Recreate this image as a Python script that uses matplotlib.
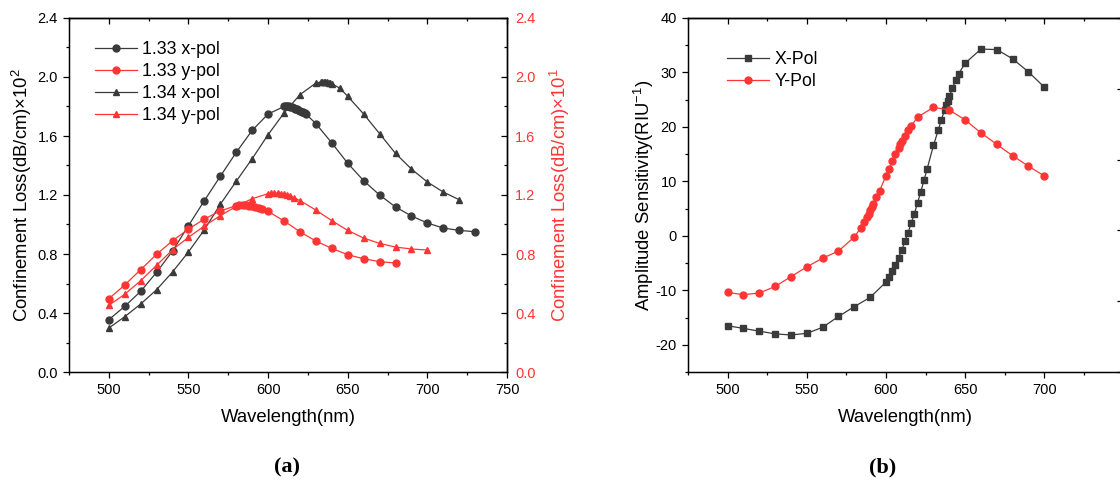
import matplotlib
matplotlib.use('Agg')
import matplotlib.pyplot as plt
from matplotlib.ticker import MultipleLocator

plt.rcParams['font.family'] = ['Liberation Sans', 'DejaVu Sans']
plt.rcParams['mathtext.fontset'] = 'custom'
plt.rcParams['mathtext.rm'] = 'Liberation Sans'
plt.rcParams['axes.unicode_minus'] = False

BLACK = '#3a3a3a'
RED = '#ff3535'

# ---- panel (a): confinement loss ----
wl_133x = [500, 510, 520, 530, 540, 550, 560, 570, 580, 590, 600,
           610, 611, 612, 613, 614, 615, 616, 617, 618, 619, 620, 621, 622, 623, 624,
           630, 640, 650, 660, 670, 680, 690, 700, 710, 720, 730]
cl_133x = [0.355, 0.445, 0.547, 0.676, 0.82, 0.992, 1.162, 1.327, 1.489, 1.638, 1.749,
           1.800, 1.803, 1.803, 1.800, 1.797, 1.794, 1.790, 1.786, 1.782, 1.777, 1.772, 1.766, 1.760, 1.753, 1.746,
           1.684, 1.553, 1.415, 1.297, 1.200, 1.119, 1.058, 1.010, 0.976, 0.960, 0.951]

wl_133y = [500, 510, 520, 530, 540, 550, 560, 570, 580,
           582, 584, 586, 588, 590, 592, 594, 596,
           600, 610, 620, 630, 640, 650, 660, 670, 680]
cl_133y = [0.497, 0.590, 0.694, 0.798, 0.890, 0.969, 1.037, 1.092, 1.128,
           1.131, 1.132, 1.131, 1.128, 1.124, 1.118, 1.111, 1.103,
           1.089, 1.024, 0.951, 0.888, 0.838, 0.795, 0.768, 0.748, 0.739]

wl_134x = [500, 510, 520, 530, 540, 550, 560, 570, 580, 590, 600, 610, 620, 630,
           633, 634, 635, 636, 637, 638, 639, 640,
           645, 650, 660, 670, 680, 690, 700, 710, 720]
cl_134x = [0.298, 0.375, 0.461, 0.558, 0.678, 0.814, 0.965, 1.137, 1.293, 1.446, 1.609, 1.756, 1.880, 1.959,
           1.966, 1.968, 1.968, 1.967, 1.965, 1.962, 1.958, 1.953,
           1.925, 1.869, 1.749, 1.616, 1.482, 1.376, 1.288, 1.220, 1.168]

wl_134y = [500, 510, 520, 530, 540, 550, 560, 570, 580, 590, 600,
           602, 604, 606, 608, 610, 612, 614, 616,
           620, 630, 640, 650, 660, 670, 680, 690, 700]
cl_134y = [0.452, 0.527, 0.619, 0.723, 0.829, 0.913, 0.990, 1.060, 1.123, 1.175, 1.209,
           1.212, 1.213, 1.212, 1.210, 1.206, 1.200, 1.192, 1.182,
           1.162, 1.098, 1.026, 0.960, 0.908, 0.872, 0.847, 0.834, 0.827]

# ---- panel (b): amplitude sensitivity ----
wl_xpol = [500, 510, 520, 530, 540, 550, 560, 570, 580, 590,
           600, 602, 604, 606, 608, 610, 612, 614, 616, 618, 620, 622, 624, 626,
           630, 633, 635, 637, 638, 639, 640, 642, 644, 646,
           650, 660, 670, 680, 690, 700]
sa_xpol = [-16.5, -17.0, -17.5, -18.0, -18.2, -17.9, -16.8, -14.8, -13.0, -11.3,
           -8.5, -7.5, -6.4, -5.3, -4.0, -2.6, -1.0, 0.6, 2.4, 4.1, 6.1, 8.1, 10.2, 12.3,
           16.6, 19.4, 21.3, 23.1, 24.0, 24.8, 25.6, 27.1, 28.6, 29.8,
           31.7, 34.3, 34.2, 32.5, 30.1, 27.3]

wl_ypol = [500, 510, 520, 530, 540, 550, 560, 570, 580,
           584, 586, 588, 589, 590, 591, 592, 594, 596,
           600, 602, 604, 606, 608, 609, 610, 612, 614, 616,
           620, 630, 640, 650, 660, 670, 680, 690, 700]
sa_ypol = [-10.4, -10.8, -10.5, -9.3, -7.5, -5.7, -4.1, -2.8, -0.2,
           1.4, 2.5, 3.5, 4.1, 4.7, 5.3, 5.8, 7.1, 8.3,
           11.0, 12.3, 13.7, 15.0, 16.2, 16.8, 17.5, 18.4, 19.4, 20.2,
           21.8, 23.6, 23.1, 21.3, 18.9, 16.8, 14.7, 12.8, 11.0]

TICK_FS = 10.5
LABEL_FS = 13.3
LEG_FS = 12.8

fig = plt.figure(figsize=(11.2, 4.86), dpi=100)
ax1 = fig.add_axes([69 / 1120, 114 / 486, 438 / 1120, 354 / 486])
ax2 = fig.add_axes([688 / 1120, 114 / 486, 435.5 / 1120, 354 / 486])


def frame(ax):
    ax.tick_params(which='major', direction='out', length=4.5, width=0.9,
                   labelsize=TICK_FS, top=False, right=False)
    ax.tick_params(which='minor', direction='out', length=2.5, width=0.9,
                   top=False, right=False)
    for s in ax.spines.values():
        s.set_linewidth(1.0)
    top = ax.secondary_xaxis('top')
    top.xaxis.set_major_locator(MultipleLocator(50))
    top.xaxis.set_minor_locator(MultipleLocator(25))
    top.tick_params(which='major', direction='in', length=4.5, width=0.9, labeltop=False)
    top.tick_params(which='minor', direction='in', length=2.5, width=0.9)
    top.spines['top'].set_linewidth(1.0)


mk = dict(markersize=5.0, linewidth=0.9)
leg_kw = dict(frameon=False, fontsize=LEG_FS, handlelength=2.35, handletextpad=0.3,
              labelspacing=0.28, borderaxespad=0.4)

# panel (a)
ax1.plot(wl_133x, cl_133x, '-o', color=BLACK, label='1.33 x-pol', **mk)
ax1.plot([], [], '-o', color=RED, label='1.33 y-pol', **mk)
ax1.plot(wl_134x, cl_134x, '-^', color=BLACK, label='1.34 x-pol', **mk)
ax1.plot([], [], '-^', color=RED, label='1.34 y-pol', **mk)
ax1.set_xlim(475, 750)
ax1.set_ylim(0, 2.4)
ax1.xaxis.set_major_locator(MultipleLocator(50))
ax1.xaxis.set_minor_locator(MultipleLocator(25))
ax1.yaxis.set_major_locator(MultipleLocator(0.4))
ax1.yaxis.set_minor_locator(MultipleLocator(0.2))
ax1.yaxis.set_major_formatter(plt.FormatStrFormatter('%.1f'))
frame(ax1)
ax1.set_xlabel('Wavelength(nm)', fontsize=LABEL_FS)
ax1.xaxis.set_label_coords(0.5, -0.105)
ax1.set_ylabel(r'Confinement Loss(dB/cm)×10$^2$', fontsize=LABEL_FS)
ax1.yaxis.set_label_coords(-0.08, 0.5)

ax1r = ax1.twinx()
ax1r.plot(wl_133y, cl_133y, '-o', color=RED, **mk)
ax1r.plot(wl_134y, cl_134y, '-^', color=RED, **mk)
ax1r.set_ylim(0, 2.4)
ax1r.yaxis.set_major_locator(MultipleLocator(0.4))
ax1r.yaxis.set_minor_locator(MultipleLocator(0.2))
ax1r.yaxis.set_major_formatter(plt.FormatStrFormatter('%.1f'))
ax1r.tick_params(which='major', direction='in', length=4.5, width=0.9,
                 labelsize=TICK_FS, labelcolor=RED, pad=6)
ax1r.tick_params(which='minor', direction='in', length=2.5, width=0.9)
ax1r.set_ylabel(r'Confinement Loss(dB/cm)×10$^1$', fontsize=LABEL_FS, color=RED)
ax1r.yaxis.set_label_coords(1.094, 0.5)
ax1r.spines['right'].set_linewidth(1.0)

ax1.legend(loc='upper left', bbox_to_anchor=(0.027, 0.974), **leg_kw)

# panel (b)
ax2.plot(wl_xpol, sa_xpol, '-s', color=BLACK, label='X-Pol', markersize=4.2, linewidth=0.9)
ax2.plot(wl_ypol, sa_ypol, '-o', color=RED, label='Y-Pol', **mk)
ax2.set_xlim(475, 750)
ax2.set_ylim(-25, 40)
ax2.xaxis.set_major_locator(MultipleLocator(50))
ax2.xaxis.set_minor_locator(MultipleLocator(25))
ax2.yaxis.set_major_locator(MultipleLocator(10))
ax2.yaxis.set_minor_locator(MultipleLocator(5))
ax2.set_xticks([500, 550, 600, 650, 700])
frame(ax2)
ax2.set_xlabel('Wavelength(nm)', fontsize=LABEL_FS)
ax2.xaxis.set_label_coords(0.5, -0.105)
ax2.set_ylabel(r'Amplitude Sensitivity(RIU$^{-1}$)', fontsize=LABEL_FS)
ax2.yaxis.set_label_coords(-0.074, 0.5)
ax2.legend(loc='upper left', bbox_to_anchor=(0.057, 0.947), **leg_kw)

ax2r = ax2.twinx()
ax2r.set_ylim(0, 5)
ax2r.yaxis.set_major_locator(MultipleLocator(1))
ax2r.yaxis.set_minor_locator(MultipleLocator(0.5))
ax2r.tick_params(which='major', direction='in', length=4.5, width=0.9, labelright=False)
ax2r.tick_params(which='minor', direction='in', length=2.5, width=0.9, color='#dddddd')

fig.text(287 / 1120, 1 - 467 / 486, '(a)', ha='center', va='center',
         fontsize=16, fontweight='bold', family='Liberation Serif')
fig.text(883 / 1120, 1 - 467 / 486, '(b)', ha='center', va='center',
         fontsize=16, fontweight='bold', family='Liberation Serif')

fig.savefig('out.png', dpi=100)
